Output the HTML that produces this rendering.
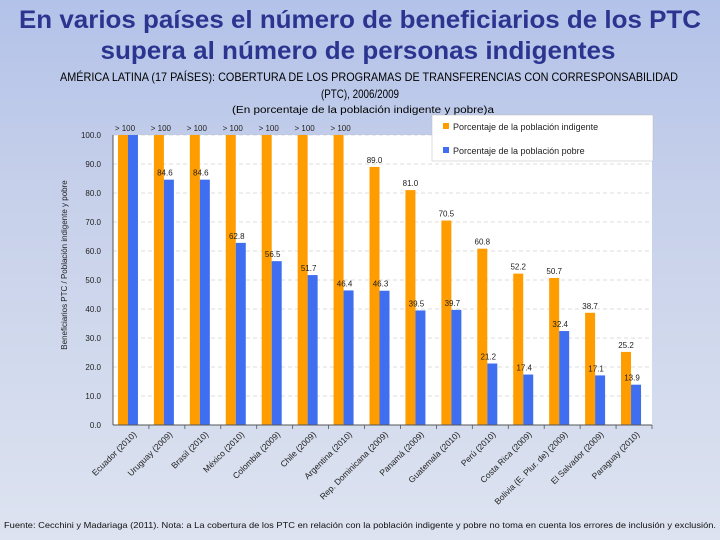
<!DOCTYPE html>
<html><head><meta charset="utf-8">
<style>
html,body{margin:0;padding:0;width:720px;height:540px;overflow:hidden}
svg{display:block;font-family:"Liberation Sans",sans-serif}
text{font-family:"Liberation Sans",sans-serif}
</style></head>
<body>
<svg id="chart" width="720" height="540" viewBox="0 0 720 540" xmlns="http://www.w3.org/2000/svg">
<defs>
<linearGradient id="bg" x1="0" y1="0" x2="0" y2="1">
<stop offset="0" stop-color="#b3c2e9"/><stop offset="0.35" stop-color="#c6d0ea"/><stop offset="1" stop-color="#dde3f0"/>
</linearGradient>
</defs>
<rect x="0" y="0" width="720" height="540" fill="url(#bg)"/>
<text x="360" y="28" text-anchor="middle" font-size="25" font-weight="bold" fill="#2b3590" textLength="682" lengthAdjust="spacingAndGlyphs">En varios países el número de beneficiarios de los PTC</text>
<text x="358" y="59" text-anchor="middle" font-size="25" font-weight="bold" fill="#2b3590" textLength="515" lengthAdjust="spacingAndGlyphs">supera al número de personas indigentes</text>
<text x="369" y="81" text-anchor="middle" font-size="12" fill="#000" textLength="618" lengthAdjust="spacingAndGlyphs">AMÉRICA LATINA (17 PAÍSES): COBERTURA DE LOS PROGRAMAS DE TRANSFERENCIAS CON CORRESPONSABILIDAD</text>
<text x="360" y="98" text-anchor="middle" font-size="12" fill="#000" textLength="78" lengthAdjust="spacingAndGlyphs">(PTC), 2006/2009</text>
<text x="363" y="113" text-anchor="middle" font-size="10" fill="#000" textLength="262" lengthAdjust="spacingAndGlyphs">(En porcentaje de la población indigente y pobre)a</text>
<rect x="113" y="135" width="539" height="290" fill="#fff"/>
<g id="grid"></g>
<g id="bars"></g>
<g id="labels"></g>
<g id="axes"></g>
<g>
<rect x="432" y="115" width="221" height="46" fill="#fff" stroke="#bbb" stroke-width="0.5"/>
<rect x="443" y="123" width="6" height="6" fill="#ff9c00"/>
<text x="453" y="130" font-size="9" fill="#222">Porcentaje de la población indigente</text>
<rect x="443" y="147" width="6" height="6" fill="#3f6ff0"/>
<text x="453" y="154" font-size="9" fill="#222">Porcentaje de la población pobre</text>
</g>
<text transform="translate(67,265) rotate(-90)" text-anchor="middle" font-size="8" fill="#222">Beneficiarios PTC / Población indigente y pobre</text>
<text x="4" y="528" font-size="8.5" fill="#111" textLength="712" lengthAdjust="spacingAndGlyphs">Fuente: Cecchini y Madariaga (2011). Nota: a La cobertura de los PTC en relación con la población indigente y pobre no toma en cuenta los errores de inclusión y exclusión.</text>
</svg>
<script>
const countries = ["Ecuador (2010)","Uruguay (2009)","Brasil (2010)","México (2010)","Colombia (2009)","Chile (2009)","Argentina (2010)","Rep. Dominicana (2009)","Panamá (2009)","Guatemala (2010)","Perú (2010)","Costa Rica (2009)","Bolivia (E. Plur. de) (2009)","El Salvador (2009)","Paraguay (2010)"];
const indigentValues = [100,100,100,100,100,100,100,89.0,81.0,70.5,60.8,52.2,50.7,38.7,25.2];
const indigentLabels = ["> 100","> 100","> 100","> 100","> 100","> 100","> 100","89.0","81.0","70.5","60.8","52.2","50.7","38.7","25.2"];
const poorValues = [100,84.6,84.6,62.8,56.5,51.7,46.4,46.3,39.5,39.7,21.2,17.4,32.4,17.1,13.9];
const yTicks = [0,10,20,30,40,50,60,70,80,90,100];

const NS="http://www.w3.org/2000/svg";
const X0=113,X1=652,Y0=425,Y1=135;
const n=countries.length, band=(X1-X0)/n, bw=10;
const y=v=>Y0-(v/100)*(Y0-Y1);
const xc=i=>X0+band*(i+0.5);
function mk(tag,attrs,parent,txt){const e=document.createElementNS(NS,tag);for(const k in attrs)e.setAttribute(k,attrs[k]);if(txt!==undefined)e.textContent=txt;document.getElementById(parent).appendChild(e);return e;}
yTicks.forEach(t=>{
  if(t>0){const g=mk('line',{x1:X0,x2:X1,y1:y(t),y2:y(t),stroke:'#bbb','stroke-width':0.6,'stroke-dasharray':'4,3'},'grid');
  
  }
  const tl=mk('text',{x:X0-12,y:y(t)+3,'text-anchor':'end','font-size':8,fill:'#222'},'axes',t.toFixed(1));
  
  
});
countries.forEach((c,i)=>{
  const cx=xc(i)-3;
  const bo=mk('rect',{x:cx-bw,y:y(indigentValues[i]),width:bw,height:Y0-y(indigentValues[i]),fill:'#ff9c00'},'bars');
  
  
  const bb=mk('rect',{x:cx,y:y(poorValues[i]),width:bw,height:Y0-y(poorValues[i]),fill:'#3f6ff0'},'bars');
  
  
  const ly=indigentValues[i]>=100?y(100)-4:y(indigentValues[i])-4;
  const lo=mk('text',{x:cx-bw/2+(indigentValues[i]>=100?2:0),y:ly,'text-anchor':'middle','font-size':8,fill:'#222'},'labels',indigentLabels[i]);
  
  
  if(poorValues[i]<100){
    const lb=mk('text',{x:cx+bw/2-4,y:y(poorValues[i])-4,'text-anchor':'middle','font-size':8,fill:'#222'},'labels',poorValues[i].toFixed(1));
    
    
  }
  const tk=mk('line',{x1:X0+band*(i+1),x2:X0+band*(i+1),y1:Y0,y2:Y0+4,stroke:'#555','stroke-width':0.8},'axes');
  
  
  const xl=mk('text',{transform:`translate(${xc(i)+6},${Y0+10}) rotate(-45)`,'text-anchor':'end','font-size':8.5,fill:'#222'},'axes',c);
  
  
});
const ax=mk('line',{x1:X0,x2:X1,y1:Y0,y2:Y0,stroke:'#555','stroke-width':1},'axes');


const ay=mk('line',{x1:X0,x2:X0,y1:Y1,y2:Y0,stroke:'#555','stroke-width':1},'axes');


</script>
</body></html>
